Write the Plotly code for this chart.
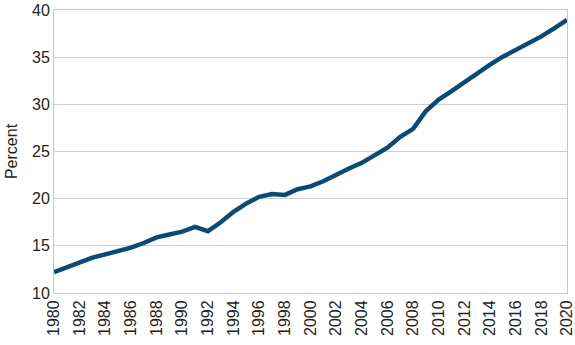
import plotly.graph_objects as go

years = list(range(1980, 2021))
percent = [12.2, 12.7, 13.3, 13.75, 14.1, 14.4, 14.8, 15.3, 15.9, 16.2, 16.5, 17.0,
           16.55, 17.5, 18.6, 19.5, 20.2, 20.5, 20.4, 21.0, 21.3, 21.85, 22.55, 23.2,
           23.8, 24.65, 25.4, 26.55, 27.4, 29.3, 30.5, 31.4, 32.35, 33.3, 34.2, 35.05,
           35.75, 36.4, 37.2, 38.05, 38.95]
x_ticks = list(range(1980, 2021, 2))
y_ticks = [10, 15, 20, 25, 30, 35, 40]

fig = go.Figure()
fig.add_trace(go.Scatter(x=years, y=percent, mode="lines",
                         line=dict(color="#0c4a76", width=4.5),
                         showlegend=False, hoverinfo="skip"))

font = dict(family="Liberation Sans, Arial, sans-serif", size=16, color="#222222")
fig.update_layout(
    width=575, height=345,
    margin=dict(l=54, r=8, t=10, b=52, autoexpand=False),
    paper_bgcolor="white", plot_bgcolor="white",
    font=font,
)
fig.update_xaxes(
    range=[1980, 2020], tickvals=x_ticks, ticktext=[str(v) for v in x_ticks],
    tickangle=-90, showgrid=False, showline=True, linecolor="#c8c8c8",
    linewidth=1, mirror=True, ticks="", zeroline=False, automargin=False,
    ticklabeloverflow="allow",
    tickfont=dict(size=16, color="#222222"),
)
fig.update_yaxes(
    range=[10, 40], tickvals=y_ticks, showgrid=True, gridcolor="#cfcfcf",
    gridwidth=1, showline=True, linecolor="#c8c8c8", linewidth=1, mirror=True,
    ticks="", zeroline=False, automargin=False, ticklabeloverflow="allow",
    tickfont=dict(size=16, color="#222222"),
    title=dict(text="Percent", font=dict(size=16, color="#222222"), standoff=10),
)

fig.write_html("out.html")
